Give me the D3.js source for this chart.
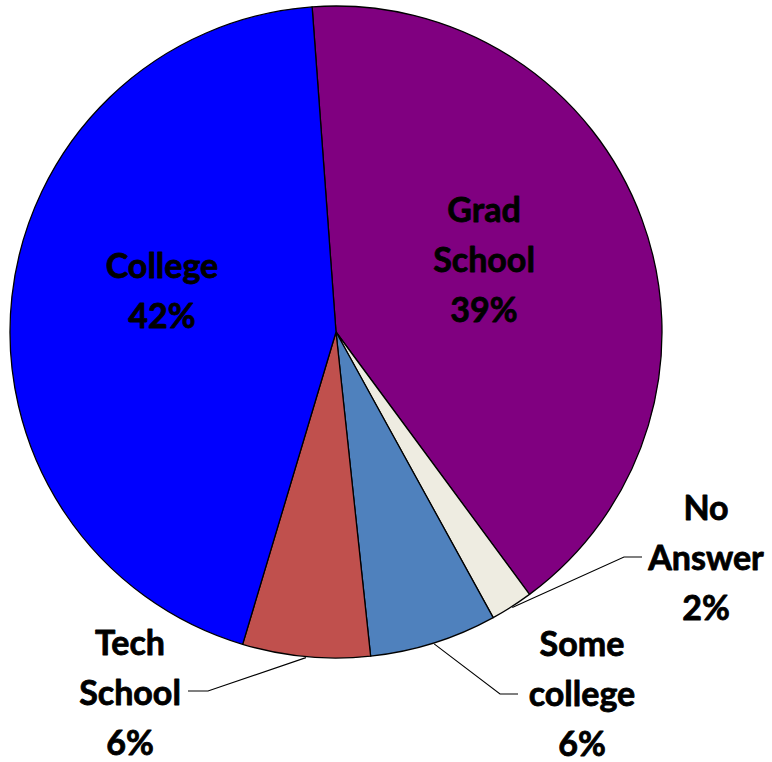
<!DOCTYPE html>
<html><head><meta charset="utf-8">
<script src="https://cdn.jsdelivr.net/npm/d3@7"></script>
<style>html,body{margin:0;padding:0;background:#fff;}</style>
</head><body>
<svg id="chart" width="772" height="762"></svg>
<script>
const categories = ["Grad School", "No Answer", "Some college", "Tech School", "College"];
const values = [39, 2, 6, 6, 42];
const labelLines = [["Grad", "School", "39%"], ["No", "Answer", "2%"], ["Some", "college", "6%"], ["Tech", "School", "6%"], ["College", "42%"]];
const colors = ["#800080", "#EEECE1", "#4F81BD", "#C0504D", "#0000FF"];

// layout (not data)
const cx = 336, cy = 332, R = 326;
const startDeg = -4.2;
const labelPos = [
  {x: 484, y: 222, inside: true},
  {x: 706, y: 520, elbow: [624, 557], end: [642, 557]},
  {x: 582, y: 656, elbow: [500, 694], end: [518, 694]},
  {x: 130, y: 655, elbow: [208, 691], end: [188, 691]},
  {x: 162, y: 278, inside: true}
];
const lineGap = 50;
const fontFamily = "Lato, 'Liberation Sans', sans-serif";
const fontSize = 34;

const svg = d3.select("#chart");
const g = svg.append("g").attr("transform", `translate(${cx},${cy})`);
const start = startDeg * Math.PI / 180;
const pie = d3.pie().sort(null).startAngle(start).endAngle(start + 2 * Math.PI);
const arcs = pie(values);
const arc = d3.arc().innerRadius(0).outerRadius(R);

g.selectAll("path.slice").data(arcs).join("path")
  .attr("class", "slice")
  .attr("d", arc)
  .attr("fill", (d, i) => colors[i])
  .attr("stroke", "#000").attr("stroke-width", 1.3).attr("stroke-linejoin", "round");

// leader lines
arcs.forEach((d, i) => {
  const p = labelPos[i];
  if (p.inside) return;
  const mid = (d.startAngle + d.endAngle) / 2;
  const sx = cx + (R + 1) * Math.sin(mid), sy = cy - (R + 1) * Math.cos(mid);
  svg.append("polyline")
    .attr("points", [[sx, sy], p.elbow, p.end].map(q => q.join(",")).join(" "))
    .attr("fill", "none").attr("stroke", "#000").attr("stroke-width", 1.1);
});

// labels
labelLines.forEach((lines, i) => {
  const p = labelPos[i];
  const t = svg.append("text")
    .attr("text-anchor", "middle")
    .attr("font-family", fontFamily).attr("font-weight", "bold")
    .attr("font-size", fontSize).attr("fill", "#000")
    .attr("stroke", "#000").attr("stroke-width", 0.8).attr("stroke-linejoin", "round");
  lines.forEach((ln, k) => {
    t.append("tspan").attr("x", p.x).attr("y", p.y + k * lineGap).text(ln);
  });
});
</script>
</body></html>
